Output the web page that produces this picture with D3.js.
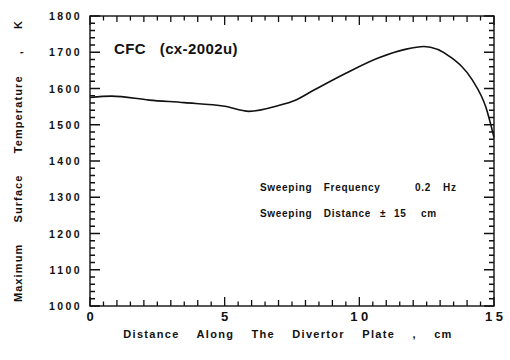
<!DOCTYPE html>
<html>
<head>
<meta charset="utf-8">
<script src="https://cdn.jsdelivr.net/npm/d3@7"></script>
<style>
	body { margin: 0; background: #fff; }
	svg { display: block; font-family: 'Liberation Sans', Arial, sans-serif; font-weight: bold; }
	text { fill: #111; }
</style>
</head>
<body>
<script>
// distance along the plate (cm) and max surface temperature (K)
const distance = [0, 0.8, 2.2, 3.5, 5.0, 5.9, 7.0, 7.6, 8.3, 9.5, 10.7, 11.7, 12.4, 13.4, 14.2, 14.7, 15.0]
const temperature = [1575, 1579, 1568, 1561, 1551, 1537, 1553, 1567, 1595, 1642, 1684, 1708, 1716, 1686, 1623, 1548, 1465]
const xTicks = [0, 5, 10, 15]
const xTickLabels = ['0', '5', '1 0', '1 5']
const yTicks = [1000, 1100, 1200, 1300, 1400, 1500, 1600, 1700, 1800]

const width = 510, height = 360
const margin = { left: 90, right: 16, top: 16, bottom: 54 }

const svg = d3.select('body').append('svg')
	.attr('width', width).attr('height', height)

const x = d3.scaleLinear().domain([0, 15]).range([margin.left, width - margin.right])
const y = d3.scaleLinear().domain([1000, 1800]).range([height - margin.bottom, margin.top])

// inward ticks on all four sides, one path
const xLen = d => d % 5 === 0 ? 9 : d % 1 === 0 ? 6 : 4.5
const yLen = d => d % 100 === 0 ? 10 : 5
const path = d3.path()
d3.range(0, 15.01, 0.5).forEach(d => {
	path.moveTo(x(d), y(1000)); path.lineTo(x(d), y(1000) - xLen(d))
	path.moveTo(x(d), y(1800)); path.lineTo(x(d), y(1800) + xLen(d))
})
d3.range(1000, 1800.1, 20).forEach(d => {
	path.moveTo(x(0), y(d)); path.lineTo(x(0) + yLen(d), y(d))
	path.moveTo(x(15), y(d)); path.lineTo(x(15) - yLen(d), y(d))
})
svg.append('path')
	.attr('d', path.toString())
	.attr('fill', 'none')
	.attr('stroke', '#111')
	.attr('stroke-width', 1.3)

svg.append('rect')
	.attr('x', x(0)).attr('y', y(1800))
	.attr('width', x(15) - x(0)).attr('height', y(1000) - y(1800))
	.attr('fill', 'none').attr('stroke', '#111').attr('stroke-width', 1.4)

svg.append('g').selectAll('text').data(yTicks).join('text')
	.attr('x', x(0) - 8).attr('y', d => y(d) + 4)
	.attr('text-anchor', 'end')
	.attr('font-size', 10.5).attr('letter-spacing', 2.4)
	.text(d => d)

svg.append('g').selectAll('text').data(xTicks).join('text')
	.attr('x', d => x(d)).attr('y', y(1000) + 15)
	.attr('text-anchor', 'middle')
	.attr('font-size', 13)
	.attr('xml:space', 'preserve')
	.text((_, i) => xTickLabels[i])

const line = d3.line().curve(d3.curveMonotoneX)
	.x((_, i) => x(distance[i]))
	.y(d => y(d))
svg.append('path')
	.datum(temperature)
	.attr('d', line)
	.attr('fill', 'none')
	.attr('stroke', '#111')
	.attr('stroke-width', 1.6)

svg.append('text')
	.attr('x', 114).attr('y', 54)
	.attr('font-size', 15).attr('letter-spacing', 0.4)
	.attr('xml:space', 'preserve')
	.text('CFC   (cx-2002u)')

const note = svg.append('g').attr('font-size', 10).attr('letter-spacing', 0.7)
note.append('text').attr('x', 260).attr('y', 191).attr('word-spacing', 8).text('Sweeping Frequency')
note.append('text').attr('x', 415).attr('y', 191).text('0.2')
note.append('text').attr('x', 443).attr('y', 191).text('Hz')
note.append('text').attr('x', 260).attr('y', 217).attr('word-spacing', 8).text('Sweeping Distance')
note.append('text').attr('x', 380).attr('y', 217).text('±')
note.append('text').attr('x', 394).attr('y', 217).text('15')
note.append('text').attr('x', 421).attr('y', 217).text('cm')

svg.append('text')
	.attr('x', 288).attr('y', 338)
	.attr('text-anchor', 'middle')
	.attr('font-size', 11).attr('letter-spacing', 1.3).attr('word-spacing', 13)
	.text('Distance Along The Divertor Plate , cm')

svg.append('text')
	.attr('transform', `translate(22, ${(y(1000) + y(1800)) / 2}) rotate(-90)`)
	.attr('text-anchor', 'middle')
	.attr('font-size', 11).attr('letter-spacing', 1.1).attr('word-spacing', 17)
	.text('Maximum Surface Temperature , K')
</script>
</body>
</html>
